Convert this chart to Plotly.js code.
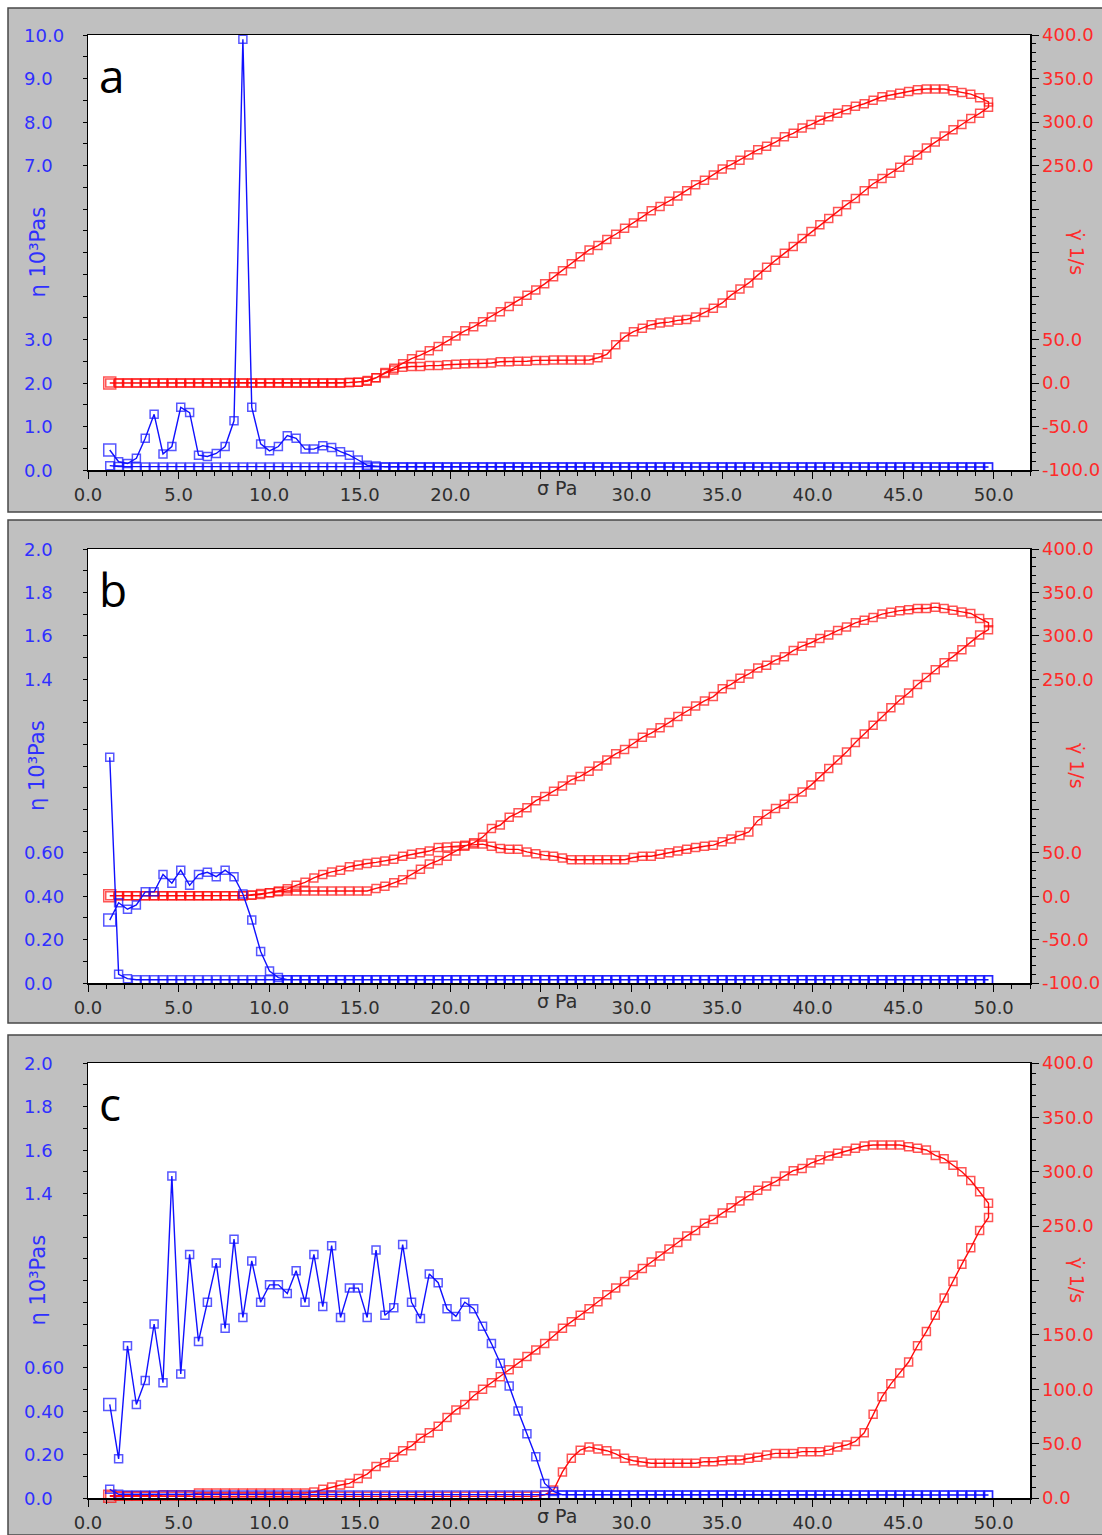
<!DOCTYPE html>
<html><head><meta charset="utf-8">
<script src="https://cdn.plot.ly/plotly-3.0.1.min.js"></script>
<style>html,body{margin:0;padding:0;background:#fff}#chart{width:1102px;height:1535px}</style>
</head><body><div id="chart"></div>
<script>
// ---------------- DATA ----------------
// shear stress steps (Pa), ramp up; the ramp down uses the same steps in reverse
const stress = [
1.2,1.69,2.18,2.67,3.16,3.65,4.14,4.63,5.12,5.61,
6.1,6.59,7.08,7.57,8.06,8.55,9.04,9.53,10.02,10.51,
11,11.49,11.98,12.47,12.96,13.45,13.94,14.43,14.92,15.41,
15.9,16.39,16.88,17.37,17.86,18.35,18.84,19.33,19.82,20.31,
20.8,21.29,21.78,22.27,22.76,23.25,23.74,24.23,24.72,25.21,
25.7,26.19,26.68,27.17,27.66,28.15,28.64,29.13,29.62,30.11,
30.6,31.09,31.58,32.07,32.56,33.05,33.54,34.03,34.52,35.01,
35.5,35.99,36.48,36.97,37.46,37.95,38.44,38.93,39.42,39.91,
40.4,40.89,41.38,41.87,42.36,42.85,43.34,43.83,44.32,44.81,
45.3,45.79,46.28,46.77,47.26,47.75,48.24,48.73,49.22,49.71];

// ---- panel a ----  (down-ramp arrays listed in ascending stress order)
const aRateUp = [
0,0,0,0,0,0,0,0,0,0, 0,0,0,0,0,0,0,0,0,0,
0,0,0,0,0,0,0,0.5,1,3,
6,11,15,18,19,19,20,20,21,21.5,
22,22.5,22.5,23,24.5,24.5,25,25,26,26,
26.5,26.5,26.5,26.5,26.5,29,33,44,53,59,
63,67,69,70,72,73,76,81,86,92,
101,108,115,124,133,141,149,157,166,174,
182,189,197,205,212,221,229,235,241,248,
256,262,270,277,284,291,297,304,310,317];
const aRateDown = [
0,0,0,0,0,0,0,0,0,0, 0,0,0,0,0,0,0,0,0,0,
0,0,0,0,0,0,0,0.5,1,2,
6,12,17,22,28,32,37,42,48.6,54,
60,64.7,70.5,76,82,88,94,101,107,114,
122,129,137,145,153,158,165,171,178,184,
191,198,203,209,215,221,228,233,239,246,
251,256,262,268,272,277,283,287,293,297,
302,306,310,314,318,321,325,329,331,333,
335,337,338,338,338,336,334,332,328,323];
const aEtaUp = [
0.46,0.19,0.15,0.27,0.73,1.28,0.37,0.54,1.44,1.32,
0.34,0.31,0.38,0.54,1.13,9.9,1.44,0.60,0.44,0.54,
0.79,0.73,0.48,0.48,0.56,0.52,0.42,0.34,0.23,0.11,
0.09,0.07,0.07,0.07,0.07,0.07,0.07,0.07,0.07,0.07,
0.07,0.07,0.07,0.07,0.07,0.07,0.07,0.07,0.07,0.07,
0.07,0.07,0.07,0.07,0.07,0.07,0.07,0.07,0.07,0.07,
0.07,0.07,0.07,0.07,0.07,0.07,0.07,0.07,0.07,0.07,
0.07,0.07,0.07,0.07,0.07,0.07,0.07,0.07,0.07,0.07,
0.07,0.07,0.07,0.07,0.07,0.07,0.07,0.07,0.07,0.07,
0.07,0.07,0.07,0.07,0.07,0.07,0.07,0.07,0.07,0.07];
const aEtaDown = [
0.1,0.08,0.07,0.07,0.07,0.07,0.07,0.07,0.07,0.07,
0.07,0.07,0.07,0.07,0.07,0.07,0.07,0.07,0.07,0.07,
0.07,0.07,0.07,0.07,0.07,0.07,0.07,0.07,0.07,0.07,
0.07,0.07,0.07,0.07,0.07,0.07,0.07,0.07,0.07,0.07,
0.07,0.07,0.07,0.07,0.07,0.07,0.07,0.07,0.07,0.07,
0.07,0.07,0.07,0.07,0.07,0.07,0.07,0.07,0.07,0.07,
0.07,0.07,0.07,0.07,0.07,0.07,0.07,0.07,0.07,0.07,
0.07,0.07,0.07,0.07,0.07,0.07,0.07,0.07,0.07,0.07,
0.07,0.07,0.07,0.07,0.07,0.07,0.07,0.07,0.07,0.07,
0.07,0.07,0.07,0.07,0.07,0.07,0.07,0.07,0.07,0.07];

// ---- panel b ----
const bRateUp = [
0.5,0.5,0.5,0.5,0.5,0.5,0.5,0.5,0.5,0.5,
0.5,0.5,0.5,0.5,0.5,0.5,1,2,4,6,
8.5,12.5,16,21,25,28,30,34,36,37.6,
39,40.5,42.5,46,48.4,50,52,56,56.8,57.6,
58.8,60,60,57.6,55,54,54,51,49,47,
46,44,42,42,42,42,42,42,42,44.6,
46,46,48.4,50,52,54,56,57.6,58.8,62.6,
66,70,74,87,94.5,101,106,112.5,120,128,
137.5,147,157,166,177,187,197,207,217,226,
234,244,252,261,269,276,284,293,301,307];
const bRateDown = [
0.5,0.5,0.5,0.5,0.5,0.5,0.5,0.5,0.5,0.5,
0.5,0.5,0.5,0.5,0.5,0.5,1.5,3,4,5,
6,6,6,6,6,6,6,6,6,6,
9,11.5,15.4,19,25,31,37,41,46,52,
57.6,61.5,68,78,82,91,96,102,110,115,
121,127,134,138,144,150,157,164,169,176,
183,188,194,200,207,213,219,225,230,239,
244,251,256,263,266,272,276,283,288,292,
297,301,306,310,315,318,321,325,327,329,
330,331.5,331.5,333,331.5,329.5,327.5,325.7,320,315];
const bEtaUp = [
0.29,0.37,0.34,0.36,0.42,0.42,0.50,0.46,0.52,0.45,
0.50,0.51,0.49,0.52,0.49,0.41,0.29,0.145,0.055,0.025,
0.015,0.015,0.015,0.015,0.015,0.015,0.015,0.015,0.015,0.015,
0.015,0.015,0.015,0.015,0.015,0.015,0.015,0.015,0.015,0.015,
0.015,0.015,0.015,0.015,0.015,0.015,0.015,0.015,0.015,0.015,
0.015,0.015,0.015,0.015,0.015,0.015,0.015,0.015,0.015,0.015,
0.015,0.015,0.015,0.015,0.015,0.015,0.015,0.015,0.015,0.015,
0.015,0.015,0.015,0.015,0.015,0.015,0.015,0.015,0.015,0.015,
0.015,0.015,0.015,0.015,0.015,0.015,0.015,0.015,0.015,0.015,
0.015,0.015,0.015,0.015,0.015,0.015,0.015,0.015,0.015,0.015];
const bEtaDown = [
1.04,0.04,0.02,0.015,0.015,0.015,0.015,0.015,0.015,0.015,
0.015,0.015,0.015,0.015,0.015,0.015,0.015,0.015,0.015,0.015,
0.015,0.015,0.015,0.015,0.015,0.015,0.015,0.015,0.015,0.015,
0.015,0.015,0.015,0.015,0.015,0.015,0.015,0.015,0.015,0.015,
0.015,0.015,0.015,0.015,0.015,0.015,0.015,0.015,0.015,0.015,
0.015,0.015,0.015,0.015,0.015,0.015,0.015,0.015,0.015,0.015,
0.015,0.015,0.015,0.015,0.015,0.015,0.015,0.015,0.015,0.015,
0.015,0.015,0.015,0.015,0.015,0.015,0.015,0.015,0.015,0.015,
0.015,0.015,0.015,0.015,0.015,0.015,0.015,0.015,0.015,0.015,
0.015,0.015,0.015,0.015,0.015,0.015,0.015,0.015,0.015,0.015];

// ---- panel c ----
const cRateUp = [
1.5,1.5,1.5,1.5,1.5,1.5,1.5,1.5,1.5,1.5,
1.5,1.5,1.5,1.5,1.5,1.5,1.5,1.5,1.5,1.5,
1.5,1.5,1.5,1.5,1.5,1.5,1.5,1.5,1.5,1.5,
1.5,1.5,1.5,1.5,1.5,1.5,1.5,1.5,1.5,1.5,
1.5,1.5,1.5,1.5,1.5,1.5,1.5,1.5,1.5,2.8,
7.4,24,36.5,44,47,45,43.5,40.5,36.5,34.3,
33,32,32,32,32,32,32,33.4,33.4,34.3,
35,35,36.5,37.4,39.5,41,41,41,42.6,42.6,
42.6,44,47,48.7,52,60,77,93,105,115,
125,140,153,168,184,199,215,230,246,258];
const cRateDown = [
2,2,2,2,2,2,3,3,3,3,
4.5,4.5,4.5,4.5,4.5,4.5,4.5,4.5,4.5,4.5,
4.5,4.5,4.5,5.5,8,10,12,13.5,18,22,
29,32.5,37.4,43.5,48,55,60,66,74,81,
86,94,100,106,111.5,118,124,130,136,142,
149,156,162,168,174,180.5,187,193,199,205,
211,217,222.5,229,235,241,246,252.6,256,262,
267,273,278,283,287,291,296,301,303,308,
311,314.5,317,319,321.5,323.7,324.6,324.6,324.6,324.6,
323,321.5,320,315,312,306,300,292,281.6,271];
const cEtaUp = [
0.43,0.18,0.70,0.43,0.54,0.80,0.53,1.48,0.57,1.12,
0.72,0.90,1.08,0.78,1.19,0.83,1.09,0.90,0.98,0.98,
0.94,1.045,0.90,1.12,0.88,1.16,0.83,0.965,0.965,0.83,
1.14,0.84,0.875,1.165,0.90,0.825,1.03,0.99,0.87,0.835,
0.90,0.87,0.79,0.71,0.62,0.515,0.40,0.295,0.19,0.067,
0.03,0.014,0.014,0.014,0.014,0.014,0.014,0.014,0.014,0.014,
0.014,0.014,0.014,0.014,0.014,0.014,0.014,0.014,0.014,0.014,
0.014,0.014,0.014,0.014,0.014,0.014,0.014,0.014,0.014,0.014,
0.014,0.014,0.014,0.014,0.014,0.014,0.014,0.014,0.014,0.014,
0.014,0.014,0.014,0.014,0.014,0.014,0.014,0.014,0.014,0.014];
const cEtaDown = [
0.04,0.017,0.014,0.014,0.014,0.014,0.014,0.014,0.014,0.014,
0.014,0.014,0.014,0.014,0.014,0.014,0.014,0.014,0.014,0.014,
0.014,0.014,0.014,0.014,0.014,0.014,0.014,0.014,0.014,0.014,
0.014,0.014,0.014,0.014,0.014,0.014,0.014,0.014,0.014,0.014,
0.014,0.014,0.014,0.014,0.014,0.014,0.014,0.014,0.014,0.014,
0.014,0.014,0.014,0.014,0.014,0.014,0.014,0.014,0.014,0.014,
0.014,0.014,0.014,0.014,0.014,0.014,0.014,0.014,0.014,0.014,
0.014,0.014,0.014,0.014,0.014,0.014,0.014,0.014,0.014,0.014,
0.014,0.014,0.014,0.014,0.014,0.014,0.014,0.014,0.014,0.014,
0.014,0.014,0.014,0.014,0.014,0.014,0.014,0.014,0.014,0.014];

// ---- tick labels ----
const xTickVals = [0,5,10,15,20,25,30,35,40,45,50];
const xTickText = ["0.0","5.0","10.0","15.0","20.0","","30.0","35.0","40.0","45.0","50.0"];
const etaTicksA = {vals:[0,1,2,3,4,5,6,7,8,9,10], text:["0.0","1.0","2.0","3.0","","","","7.0","8.0","9.0","10.0"]};
const etaTicksBC = {vals:[0,0.2,0.4,0.6,0.8,1.0,1.2,1.4,1.6,1.8,2.0], text:["0.0","0.20","0.40","0.60","","","","1.4","1.6","1.8","2.0"]};
const rateTicksAB = {vals:[-100,-50,0,50,100,150,200,250,300,350,400], text:["-100.0","-50.0","0.0","50.0","","","","250.0","300.0","350.0","400.0"]};
const rateTicksC = {vals:[0,50,100,150,200,250,300,350,400], text:["0.0","50.0","100.0","150.0","","250.0","300.0","350.0","400.0"]};
const etaTitle = "η 10³Pas";
const rateTitle = "γ̇ 1/s";
const stressTitle = "σ Pa";

// ---------------- LAYOUT ----------------
const W = 1102, H = 1535, PL = 88, PR = 1030;
const fx = p => p / W, fy = p => 1 - p / H;
const BLUE = "#1010ff", RED = "#ff0c0c", BLUE_T = "#3030ff", RED_T = "#ff2a2a", DARK = "#2e2e2e";
const FONT = "DejaVu Sans, Verdana, sans-serif";

const panels = [
  {top:35,  bot:470,  ft:8,    fb:512,  letter:"a", etaRange:[0,10], etaTicks:etaTicksA,  etaMinor:0.5, rateRange:[-100,400], rateTicks:rateTicksAB,
   rateUp:aRateUp, rateDown:aRateDown, etaUp:aEtaUp, etaDown:aEtaDown},
  {top:549, bot:983,  ft:520,  fb:1023, letter:"b", etaRange:[0,2],  etaTicks:etaTicksBC, etaMinor:0.1, rateRange:[-100,400], rateTicks:rateTicksAB,
   rateUp:bRateUp, rateDown:bRateDown, etaUp:bEtaUp, etaDown:bEtaDown},
  {top:1063,bot:1498, ft:1035, fb:1535, letter:"c", etaRange:[0,2],  etaTicks:etaTicksBC, etaMinor:0.1, rateRange:[0,400],    rateTicks:rateTicksC,
   rateUp:cRateUp, rateDown:cRateDown, etaUp:cEtaUp, etaDown:cEtaDown}
];

const layout = {
  width: W, height: H, margin:{l:0,r:0,t:0,b:0},
  paper_bgcolor:"#ffffff", plot_bgcolor:"rgba(0,0,0,0)",
  showlegend:false, shapes:[], annotations:[]
};
const traces = [];
const loopX = stress.concat(stress.slice().reverse());

panels.forEach((p, k) => {
  const xn = k === 0 ? "x" : "x" + (k + 1);
  const rateN = "y" + (2 * k + 1 === 1 ? "" : (2 * k + 1));
  const etaN = "y" + (2 * k + 2);
  const xKey = k === 0 ? "xaxis" : "xaxis" + (k + 1);
  const rateKey = 2 * k + 1 === 1 ? "yaxis" : "yaxis" + (2 * k + 1);
  const etaKey = "yaxis" + (2 * k + 2);
  const ydom = [fy(p.bot), fy(p.top)];
  const tickBase = {ticks:"outside", ticklen:7, tickwidth:1, tickcolor:"#000",
    showline:true, linecolor:"#000", linewidth:1.5, showgrid:false, zeroline:false, fixedrange:true};

  layout[xKey] = Object.assign({}, tickBase, {
    domain:[fx(PL), fx(PR)], anchor:rateN, range:[0,52],
    tickmode:"array", tickvals:xTickVals, ticktext:xTickText, mirror:true,
    ticklabelstandoff:1,
    minor:{tickmode:"linear", tick0:0, dtick:1, ticks:"outside", ticklen:4, tickcolor:"#000"},
    tickfont:{family:FONT, size:18, color:DARK}
  });
  layout[rateKey] = Object.assign({}, tickBase, {
    domain:ydom, anchor:xn, side:"right", range:p.rateRange,
    tickmode:"array", tickvals:p.rateTicks.vals, ticktext:p.rateTicks.text,
    minor:{tickmode:"linear", tick0:0, dtick:10, ticks:"outside", ticklen:4, tickcolor:"#000"},
    tickfont:{family:FONT, size:18, color:RED_T}
  });
  layout[etaKey] = Object.assign({}, tickBase, {
    domain:ydom, anchor:xn, side:"left", overlaying:rateN, range:p.etaRange,
    tickmode:"array", tickvals:p.etaTicks.vals, ticktext:p.etaTicks.vals.map(() => ""),
    showticklabels:false,
    minor:{tickmode:"linear", tick0:0, dtick:p.etaMinor, ticks:"outside", ticklen:4, tickcolor:"#000"}
  });

  // frame + white plot area
  layout.shapes.push({type:"rect", xref:"paper", yref:"paper", layer:"below",
    x0:fx(8), x1:1.02, y0:fy(p.fb), y1:fy(p.ft), fillcolor:"#c0c0c0", line:{color:"#484848", width:1.5}});
  layout.shapes.push({type:"rect", xref:"paper", yref:"paper", layer:"below",
    x0:fx(PL), x1:fx(PR), y0:fy(p.bot), y1:fy(p.top), fillcolor:"#ffffff", line:{width:0}});

  // left tick labels (left aligned as in the original)
  p.etaTicks.vals.forEach((v, j) => {
    if (!p.etaTicks.text[j]) return;
    layout.annotations.push({xref:"paper", x:fx(22), xanchor:"left", yref:etaN, y:v, yanchor:"middle",
      text:p.etaTicks.text[j], showarrow:false, font:{family:FONT, size:18, color:BLUE_T}});
  });
  // titles
  layout.annotations.push({xref:"paper", x:fx(37), xanchor:"center", yref:etaN + " domain", y:0.5, yanchor:"middle",
    text:etaTitle, textangle:-90, showarrow:false, font:{family:FONT, size:21, color:BLUE_T}});
  layout.annotations.push({xref:"paper", x:fx(1077), xanchor:"center", yref:rateN + " domain", y:0.5, yanchor:"middle",
    text:rateTitle, textangle:90, showarrow:false, font:{family:FONT, size:19, color:RED_T}});
  layout.annotations.push({xref:"paper", x:fx(557), xanchor:"center", yref:"paper", y:fy(p.bot + 18), yanchor:"middle",
    text:stressTitle, showarrow:false, font:{family:FONT, size:19, color:DARK}});
  layout.annotations.push({xref:"paper", x:fx(97), xanchor:"left", yref:"paper", y:fy(p.top + 40), yanchor:"middle",
    text:p.letter, showarrow:false, font:{family:"Open Sans, sans-serif", size:46, color:"#000"}});

  const sizes = loopX.map((_, j) => j === 0 ? 12 : 8);
  traces.push({x:loopX, y:p.rateUp.concat(p.rateDown.slice().reverse()), xaxis:xn, yaxis:rateN,
    mode:"lines+markers", cliponaxis:false, line:{color:RED, width:1.4},
    marker:{symbol:"square-open", size:sizes, color:RED, line:{width:1.5, color:RED}}, hoverinfo:"skip"});
  traces.push({x:loopX, y:p.etaUp.concat(p.etaDown.slice().reverse()), xaxis:xn, yaxis:etaN,
    mode:"lines+markers", cliponaxis:false, line:{color:BLUE, width:1.4},
    marker:{symbol:"square-open", size:sizes, color:BLUE, line:{width:1.5, color:BLUE}}, hoverinfo:"skip"});
});

Plotly.newPlot("chart", traces, layout, {staticPlot:true, displayModeBar:false});
</script>
</body></html>
